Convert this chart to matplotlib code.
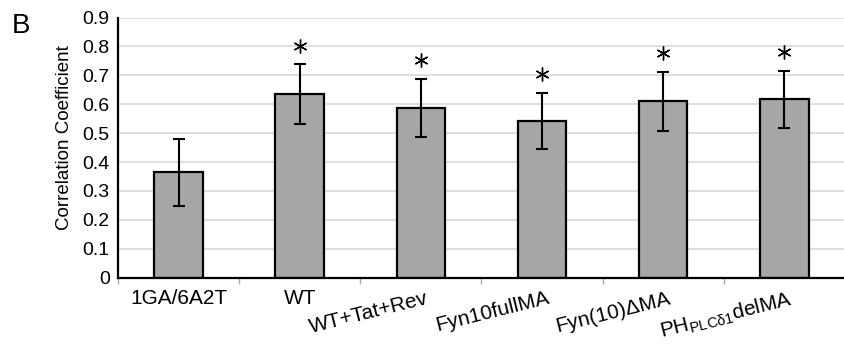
import numpy as np
import matplotlib
matplotlib.use("Agg")
import matplotlib.pyplot as plt
from matplotlib.transforms import ScaledTranslation

plt.rcParams['font.family'] = ['Liberation Sans', 'DejaVu Sans']
plt.rcParams['mathtext.fontset'] = 'custom'
plt.rcParams['mathtext.rm'] = 'Liberation Sans'
plt.rcParams['mathtext.it'] = 'Liberation Sans:italic'

# correlation coefficients (mean +/- error) per construct
labels = ['1GA/6A2T', 'WT', 'WT+Tat+Rev', 'Fyn10fullMA', 'Fyn(10)ΔMA',
          r'PH$_{\mathregular{PLCδ1}}$delMA']
means = [0.365, 0.635, 0.587, 0.543, 0.610, 0.617]
errors = [0.116, 0.103, 0.101, 0.097, 0.102, 0.099]
significant = [False, True, True, True, True, True]
rotated = [False, False, True, True, True, True]

fig = plt.figure(figsize=(8.45, 3.49), dpi=100)
ax = fig.add_axes([0.1396, 0.2043, 0.8604, 0.7453])

x = np.arange(len(labels))
ax.bar(x, means, width=0.40, color='#a6a6a6', edgecolor='black',
       linewidth=1.6, zorder=2)
ax.errorbar(x, means, yerr=errors, fmt='none', ecolor='black',
            elinewidth=1.5, capsize=4.5, capthick=1.5, zorder=3)

# significance asterisks above the error bars
for xi, m, e, s in zip(x, means, errors, significant):
    if s:
        ax.plot(xi, m + e + 0.064, marker=(6, 2, 0), markersize=10,
                markeredgewidth=1.0, color='black', zorder=4)

ax.set_xlim(-0.5, len(labels) - 0.5)
ax.set_ylim(0, 0.9)
ax.set_yticks(np.arange(0, 0.91, 0.1))
ax.set_yticklabels(['0'] + ['%.1f' % v for v in np.arange(0.1, 0.91, 0.1)])
ax.yaxis.grid(True, color='#d9d9d9', linewidth=1.2)
ax.set_axisbelow(True)

for side in ['top', 'right']:
    ax.spines[side].set_visible(False)
for side in ['left', 'bottom']:
    ax.spines[side].set_linewidth(1.6)

ax.tick_params(axis='y', length=0, pad=6, labelsize=14)
ax.set_xticks(x)
ax.set_xticklabels(labels, fontsize=15)
ax.tick_params(axis='x', which='major', length=0, pad=8)
ax.set_xticks(np.arange(-0.5, len(labels)), minor=True)
ax.tick_params(axis='x', which='minor', length=4, color='#aaaaaa', width=1)

for lab, r in zip(ax.get_xticklabels(), rotated):
    if r:
        lab.set_rotation(14)
        lab.set_rotation_mode('anchor')
        lab.set_ha('right')
        lab.set_va('top')
        lab.set_transform(lab.get_transform() +
                          ScaledTranslation(5 / 100, 0, fig.dpi_scale_trans))

ax.set_ylabel('Correlation Coefficient', fontsize=13.5)
ax.yaxis.set_label_coords(-0.062, 0.537)

fig.text(0.0142, 0.9054, 'B', fontsize=20, va='baseline', ha='left')

fig.savefig('out.png', dpi=100)
